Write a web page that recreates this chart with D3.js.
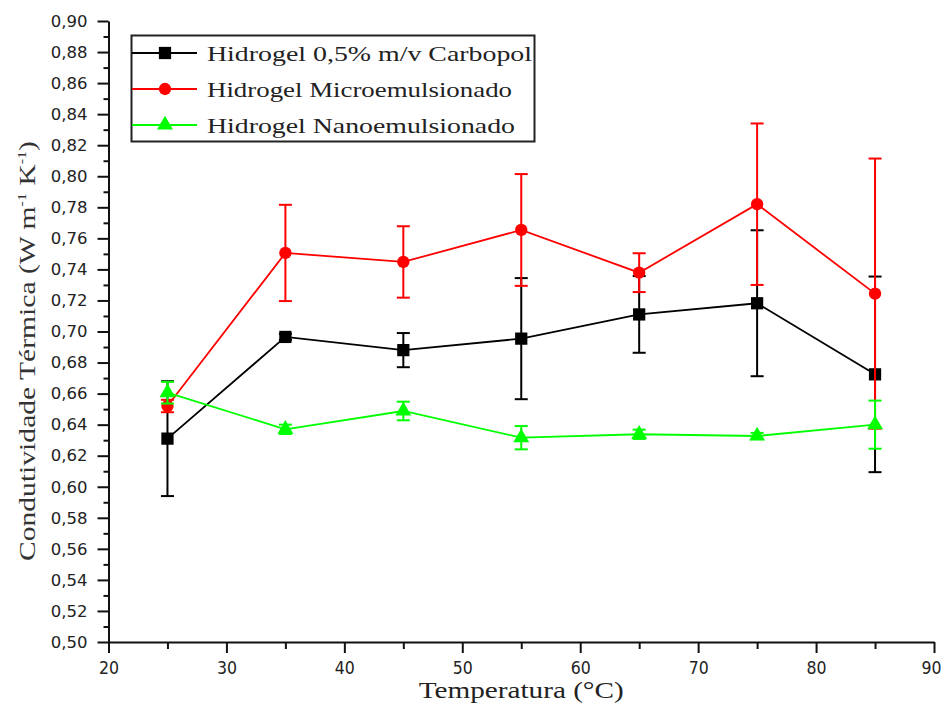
<!DOCTYPE html>
<html lang="pt">
  <head>
    <meta charset="UTF-8" />
    <title>Condutividade Térmica</title>
    <script src="https://d3js.org/d3.v7.min.js"></script>
    <style>
      body { margin: 0; background: white; }
      .tick text { fill: #222; }
    </style>
  </head>
  <body>
    <div id="chart"></div>
    <script>
      // ----------- Data ----------- //
      var temps = [25, 35, 45, 55, 65, 75, 85];

      var carbopol = [0.631, 0.6965, 0.688, 0.6954, 0.711, 0.7182, 0.6724];
      var carbopolErr = [0.037, 0.002, 0.011, 0.039, 0.0247, 0.047, 0.063];

      var micro = [0.652, 0.7506, 0.7448, 0.7654, 0.7379, 0.782, 0.7244];
      var microErr = [0.004, 0.031, 0.023, 0.036, 0.0125, 0.052, 0.087];

      var nano = [0.6606, 0.637, 0.6488, 0.6316, 0.6338, 0.6327, 0.640];
      var nanoErr = [0.007, 0.003, 0.006, 0.0075, 0.003, 0.002, 0.0155];

      var seriesNames = ["Hidrogel 0,5% m/v Carbopol", "Hidrogel Microemulsionado", "Hidrogel Nanoemulsionado"];

      var xMajor = [20, 30, 40, 50, 60, 70, 80, 90];
      var xMinor = [25, 35, 45, 55, 65, 75, 85];
      var yMajor = d3.range(0, 21).map(i => +(0.50 + i * 0.02).toFixed(2));
      var yMinor = d3.range(0, 20).map(i => +(0.51 + i * 0.02).toFixed(2));

      // ----------- Basic Variables ----------- //
      var width = 943;
      var height = 710;
      var plotLeft = 108.5, plotRight = 934, plotTop = 21, plotBottom = 642;

      var svg = d3.select("#chart")
        .append("svg")
        .attr("width", width)
        .attr("height", height)
        .style("background", "white");

      var x = d3.scaleLinear().domain([20, 90]).range([plotLeft, plotRight]);
      var y = d3.scaleLinear().domain([0.50, 0.90]).range([plotBottom, plotTop]);

      var comma = v => d3.format(".2f")(v).replace(".", ",");

      // ----------- Axes ----------- //
      var xAxis = svg.append("g")
        .attr("transform", "translate(0," + plotBottom + ")")
        .call(d3.axisBottom(x).tickValues(xMajor).tickSize(11).tickSizeOuter(0).tickPadding(9));
      xAxis.selectAll("text")
        .style("font-family", "'DejaVu Sans Condensed', 'DejaVu Sans', sans-serif")
        .style("font-size", "17.5px");
      // last label sits right at the window edge
      xAxis.selectAll(".tick text").filter(d => d === 90).attr("dx", -3);

      svg.append("g")
        .attr("transform", "translate(0," + plotBottom + ")")
        .call(d3.axisBottom(x).tickValues(xMinor).tickSize(7).tickSizeOuter(0).tickFormat(""))
        .select(".domain").remove();

      var yAxis = svg.append("g")
        .attr("transform", "translate(" + plotLeft + ",0)")
        .call(d3.axisLeft(y).tickValues(yMajor).tickSize(11).tickSizeOuter(0).tickPadding(10).tickFormat(comma));
      yAxis.selectAll("text")
        .style("font-family", "'DejaVu Sans', sans-serif")
        .style("font-size", "16.5px");

      svg.append("g")
        .attr("transform", "translate(" + plotLeft + ",0)")
        .call(d3.axisLeft(y).tickValues(yMinor).tickSize(5).tickSizeOuter(0).tickFormat(""))
        .select(".domain").remove();

      svg.selectAll(".domain, .tick line")
        .attr("stroke", "#111")
        .attr("stroke-width", 2);

      // ----------- Axis titles ----------- //
      svg.append("text")
        .attr("x", (plotLeft + plotRight) / 2)
        .attr("y", 698)
        .attr("text-anchor", "middle")
        .attr("textLength", 205)
        .attr("lengthAdjust", "spacingAndGlyphs")
        .style("font-family", "'Liberation Serif', serif")
        .style("font-size", "24px")
        .style("fill", "#222")
        .text("Temperatura (°C)");

      var yTitle = svg.append("text")
        .attr("transform", "translate(35,351) rotate(-90)")
        .attr("text-anchor", "middle")
        .attr("textLength", 420)
        .attr("lengthAdjust", "spacingAndGlyphs")
        .style("font-family", "'Liberation Serif', serif")
        .style("font-size", "24px")
        .style("fill", "#333");
      yTitle.append("tspan").text("Condutividade Térmica (W m");
      yTitle.append("tspan").attr("dy", -9).style("font-size", "13px").text("-1");
      yTitle.append("tspan").attr("dy", 9).text(" K");
      yTitle.append("tspan").attr("dy", -9).style("font-size", "13px").text("-1");
      yTitle.append("tspan").attr("dy", 9).text(")");

      // ----------- Series ----------- //
      var series = [
        { values: carbopol, err: carbopolErr, color: "#000000", symbol: d3.symbolSquare, size: 150 },
        { values: micro, err: microErr, color: "#ff0000", symbol: d3.symbolCircle, size: 120 },
        { values: nano, err: nanoErr, color: "#00ff00", symbol: d3.symbolTriangle, size: 110 }
      ];

      var line = d3.line()
        .x(d => x(d[0]))
        .y(d => y(d[1]));

      series.forEach(function(s) {
        var pts = temps.map((t, i) => [t, s.values[i], s.err[i]]);
        var g = svg.append("g");

        // error bars
        var eb = g.selectAll(".err").data(pts).enter().append("g");
        eb.append("line")
          .attr("x1", d => x(d[0])).attr("x2", d => x(d[0]))
          .attr("y1", d => y(d[1] + d[2])).attr("y2", d => y(d[1] - d[2]));
        eb.append("line")
          .attr("x1", d => x(d[0]) - 6.5).attr("x2", d => x(d[0]) + 6.5)
          .attr("y1", d => y(d[1] + d[2])).attr("y2", d => y(d[1] + d[2]));
        eb.append("line")
          .attr("x1", d => x(d[0]) - 6.5).attr("x2", d => x(d[0]) + 6.5)
          .attr("y1", d => y(d[1] - d[2])).attr("y2", d => y(d[1] - d[2]));
        eb.selectAll("line")
          .attr("stroke", s.color)
          .attr("stroke-width", 2);

        g.append("path")
          .datum(pts)
          .attr("d", line)
          .attr("fill", "none")
          .attr("stroke", s.color)
          .attr("stroke-width", 1.8);

        g.selectAll(".pt").data(pts).enter().append("path")
          .attr("d", d3.symbol().type(s.symbol).size(s.size))
          .attr("transform", d => "translate(" + x(d[0]) + "," + y(d[1]) + ")")
          .attr("fill", s.color);
      });

      // ----------- Legend ----------- //
      var legend = svg.append("g");
      legend.append("rect")
        .attr("x", 131.5).attr("y", 35.5)
        .attr("width", 403).attr("height", 106)
        .attr("fill", "white")
        .attr("stroke", "#222")
        .attr("stroke-width", 2);

      var legendRows = [53, 89, 125];
      var legendLengths = [325, 305, 308];
      series.forEach(function(s, i) {
        var row = legend.append("g").attr("transform", "translate(0," + legendRows[i] + ")");
        row.append("line")
          .attr("x1", 132).attr("x2", 197)
          .attr("stroke", s.color).attr("stroke-width", 1.8);
        row.append("path")
          .attr("d", d3.symbol().type(s.symbol).size(s.size))
          .attr("transform", "translate(165,0)")
          .attr("fill", s.color);
        row.append("text")
          .attr("x", 207).attr("y", 8)
          .attr("textLength", legendLengths[i])
          .attr("lengthAdjust", "spacingAndGlyphs")
          .style("font-family", "'Liberation Serif', serif")
          .style("font-size", "22px")
          .style("fill", "#222")
          .text(seriesNames[i]);
      });
    </script>
  </body>
</html>
